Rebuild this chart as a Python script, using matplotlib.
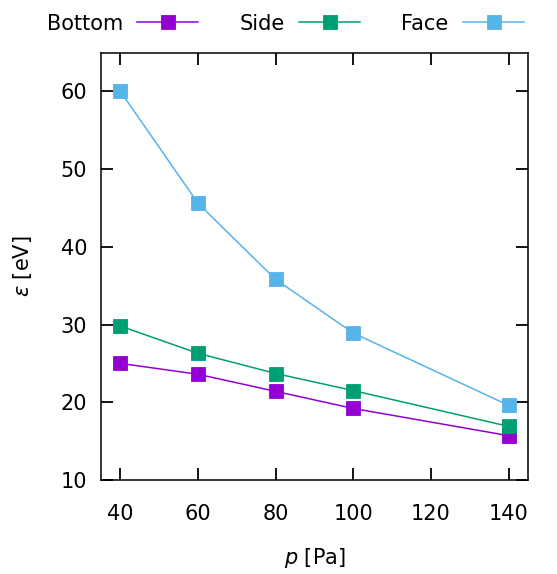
import numpy as np
import matplotlib
matplotlib.use('Agg')
import matplotlib.pyplot as plt

# pressure [Pa]
pressure = [40, 60, 80, 100, 140]
# energy [eV] per configuration
bottom = [25.0, 23.6, 21.4, 19.2, 15.7]
side = [29.8, 26.3, 23.7, 21.5, 16.9]
face = [60.0, 45.6, 35.8, 28.9, 19.6]

labels = ['Bottom', 'Side', 'Face']
colors = ['#9400d3', '#009e73', '#56b4e9']

plt.rcParams['font.family'] = ['DejaVu Sans Condensed', 'DejaVu Sans']
plt.rcParams['mathtext.fontset'] = 'custom'
plt.rcParams['mathtext.it'] = 'DejaVu Sans Condensed:italic'
plt.rcParams['mathtext.rm'] = 'DejaVu Sans Condensed'

fs = 15

fig = plt.figure(figsize=(5.57, 5.74), dpi=100)
ax = fig.add_axes([0.1813, 0.1638, 0.948 - 0.1813, 0.9085 - 0.1638])

for series, lab, c in zip([bottom, side, face], labels, colors):
    ax.plot(pressure, series, color=c, lw=1.1, marker='s', ms=10.5,
            mec=c, mew=0.6, label=lab)

ax.set_xlim(35, 145)
ax.set_ylim(10, 65)
ax.set_xticks([40, 60, 80, 100, 120, 140])
ax.set_yticks([10, 20, 30, 40, 50, 60])
ax.tick_params(direction='in', length=8.5, width=1.3, top=True, right=True,
               labelsize=fs)
ax.tick_params(axis='x', pad=17)
ax.tick_params(axis='y', pad=10)
for s in ax.spines.values():
    s.set_linewidth(1.1)

ax.set_xlabel('$p$ [Pa]', fontsize=fs, labelpad=16)
ax.set_ylabel(r'$\epsilon$ [eV]', fontsize=fs, labelpad=19)

fig.legend(loc='center', bbox_to_anchor=(0.512, 0.959), ncol=3, frameon=False,
           markerfirst=False, fontsize=fs, handlelength=2.9,
           handletextpad=0.7, columnspacing=2.0, borderaxespad=0)

fig.savefig('out.png', dpi=100)
